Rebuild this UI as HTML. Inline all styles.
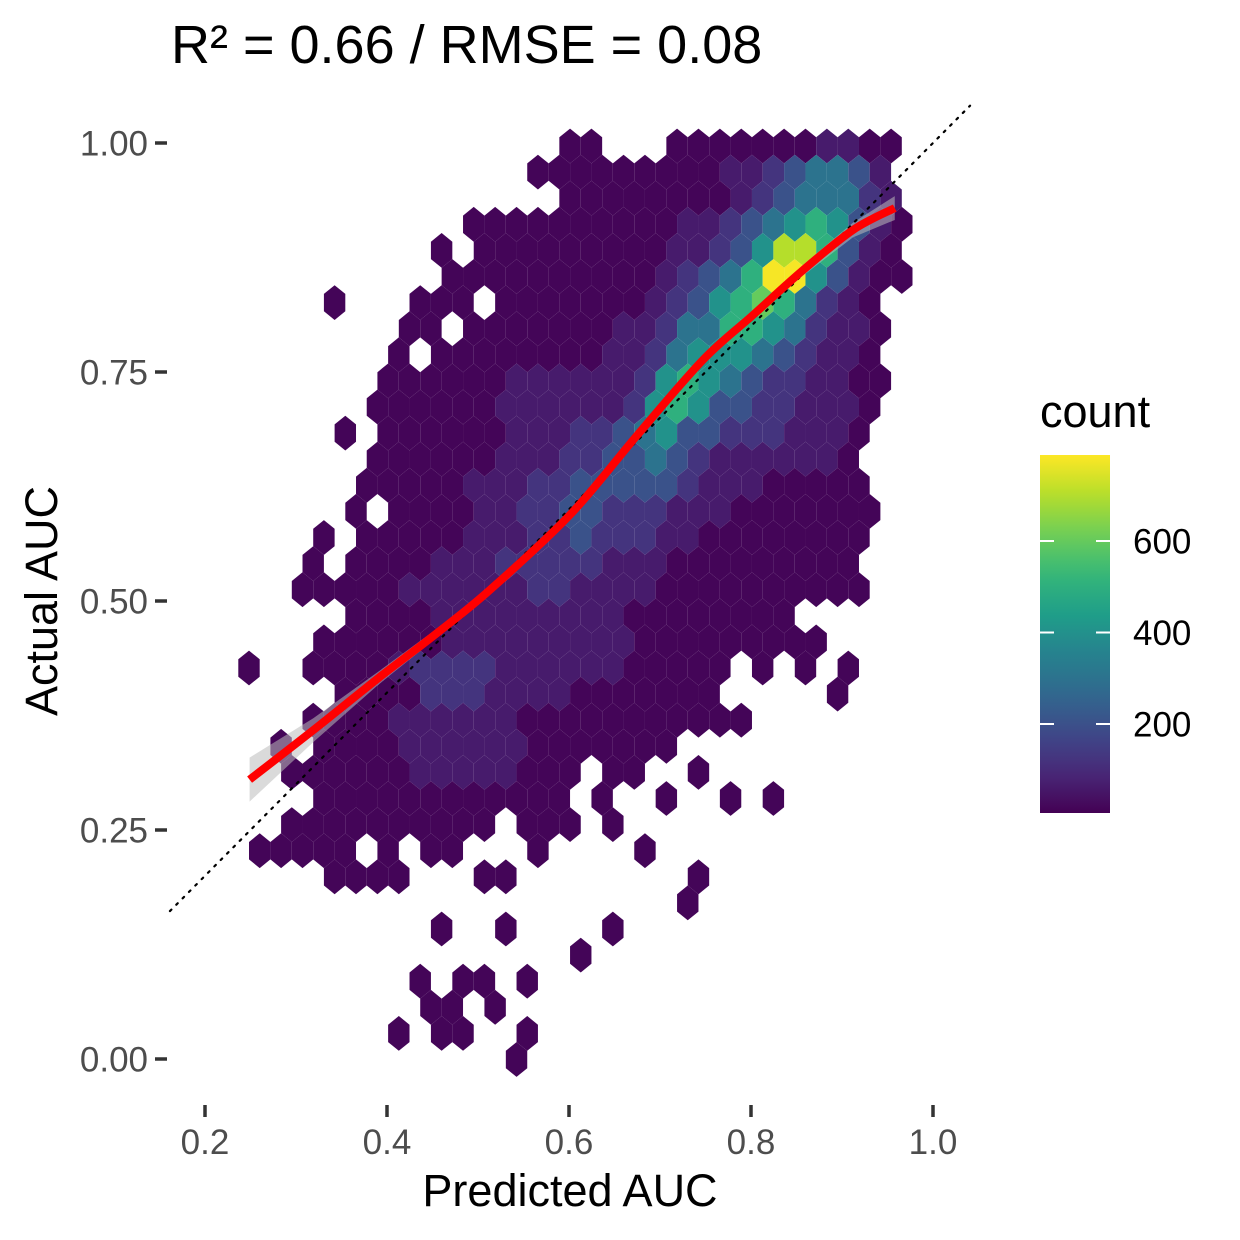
<!DOCTYPE html>
<html><head><meta charset="utf-8"><style>
html,body{margin:0;padding:0;background:#fff}
svg{display:block;font-family:"Liberation Sans",sans-serif}
</style></head><body>
<svg id="chart" width="1240" height="1240" viewBox="0 0 1240 1240">
<defs><linearGradient id="vir" x1="0" y1="1" x2="0" y2="0"></linearGradient></defs>
<text x="171" y="63" font-size="54" fill="#000">R² = 0.66 / RMSE = 0.08</text>
<g id="hexes"></g>
<g id="fit"></g>
<g id="axes"></g>
<text x="570" y="1206" font-size="45" text-anchor="middle" fill="#000">Predicted AUC</text>
<text transform="translate(57,601) rotate(-90)" font-size="45" text-anchor="middle" fill="#000">Actual AUC</text>
<g id="legend">
<text x="1040" y="427" font-size="45" fill="#000">count</text>
<rect x="1040" y="455" width="70" height="358" fill="url(#vir)"/>
</g>
</svg>
<script>
// ---- data ----
const xTicks = [0.2, 0.4, 0.6, 0.8, 1.0];
const xTickLabels = ["0.2", "0.4", "0.6", "0.8", "1.0"];
const yTicks = [0.0, 0.25, 0.5, 0.75, 1.0];
const yTickLabels = ["0.00", "0.25", "0.50", "0.75", "1.00"];
const legendTicks = [200, 400, 600];
const legendTickLabels = ["200", "400", "600"];
const countMin = 1;
const countMax = 788;
// hex grid (data units)
const hexX0 = 0.24835;
const hexY0 = 0.99672;
const hexBinW = 0.02352;
const hexBinH = 0.028493;
// count code per hexagon, row by row from top
const levelCodes = ["1", "2", "3", "4", "5", "6", "7", "8", "9", "A"];
const levelCounts = [10, 60, 120, 200, 300, 400, 500, 600, 700, 780];
const hexRows = [
"...............11...11111112211",
".............11111111122345542.",
"...............1111111123455532",
"..........1111111111223456764 21".replace(" ",""),
".........1.11111111122346997421",
".........111111111123457AA64211",
"....1...111.1111111234678753 21".replace(" ","")+".",
".......11.11111112235577653221.",
".......1.111111112235666543221.",
"......111111222222367654332211.",
"......111111222222367644332221.",
"....1.11111122233456443332221..",
"......11111122233445432222221..",
".....11111222334444432221111 1..".replace(" ",""),
".....1.11112233443332221111111.",
"...1.111112223343332211111111..",
"...1.111122233333222111111111..",
"..11111222222332222111111111 1..".replace(" ",""),
".....1111222222222111111 11.....".replace(" ",""),
"...111111222222222111111111....",
"1..11112333322222211111.1.1.1...",
"....11113332222111111 1.....1...".replace(" ",""),
"...1111222222111111111 11.......".replace(" ",""),
".1.11112222221111111...........",
"..11111122222111.11..1.........",
"...111111111111.1..1..1.1......",
"..1111111111.111.1.............",
"11111.1.11...1....1............",
"....1111...11........1.........",
"....................1..........",
".........1..1....1.............",
"...............1...............",
"........1.11.1.................",
"........11.1...................",
".......1.11..1.................",
"............1.................."
];
// loess fit line
const fitX = [0.249, 0.319, 0.392, 0.455, 0.513, 0.601, 0.675, 0.747, 0.802, 0.857, 0.912, 0.958];
const fitY = [0.305, 0.359, 0.417, 0.465, 0.512, 0.594, 0.681, 0.763, 0.812, 0.861, 0.905, 0.929];
const fitSE = [0.024, 0.013, 0.007, 0.005, 0.004, 0.004, 0.004, 0.004, 0.005, 0.006, 0.008, 0.013];
// identity reference line
const refX = [0.1615, 1.0407];
const refY = [0.1615, 1.0407];

// ---- scales ----
const sx = v => 23 + v * 910;
const sy = v => 1059 - v * 916;
const legY = v => 815.5 - v * 0.4575;
const vir = ["#440154","#482878","#3e4989","#31688e","#26828e","#1f9e89","#35b779","#6ece58","#b5de2b","#fde725"];
function hexToRgb(h){return [1,3,5].map(i=>parseInt(h.substr(i,2),16));}
function viridis(t){
  t=Math.max(0,Math.min(1,t));
  const p=t*(vir.length-1), i=Math.min(Math.floor(p),vir.length-2), f=p-i;
  const a=hexToRgb(vir[i]), b=hexToRgb(vir[i+1]);
  return "rgb("+a.map((v,k)=>Math.round(v+(b[k]-v)*f)).join(",")+")";
}
const NS="http://www.w3.org/2000/svg";
function mk(tag,attrs,parent){const e=document.createElementNS(NS,tag);for(const k in attrs)e.setAttribute(k,attrs[k]);parent.appendChild(e);return e;}
function smoothPath(pts){
  let d="M"+pts[0][0]+","+pts[0][1];
  for(let i=0;i<pts.length-1;i++){
    const p0=pts[Math.max(0,i-1)],p1=pts[i],p2=pts[i+1],p3=pts[Math.min(pts.length-1,i+2)];
    const c1=[p1[0]+(p2[0]-p0[0])/6,p1[1]+(p2[1]-p0[1])/6];
    const c2=[p2[0]-(p3[0]-p1[0])/6,p2[1]-(p3[1]-p1[1])/6];
    d+=" C"+c1.join(",")+" "+c2.join(",")+" "+p2.join(",");
  }
  return d;
}

// gradient
const grad=document.getElementById("vir");
for(let i=0;i<=20;i++){const t=i/20;mk("stop",{offset:t,"stop-color":viridis(t)},grad);}

// hexes
const hg=document.getElementById("hexes");
hexRows.forEach((row,r)=>{
  for(let c=0;c<row.length;c++){
    const ch=row[c]; const li=levelCodes.indexOf(ch);
    if(li<0) continue;
    const count=levelCounts[li];
    const cx=sx(hexX0 + c*hexBinW + (r%2 ? hexBinW/2 : 0));
    const cy=sy(hexY0 - r*hexBinH);
    const hw=(sx(hexBinW)-sx(0))/2, hh=(sy(0)-sy(hexBinH))*2/3;
    const pts=[[0,-hh],[hw,-hh/2],[hw,hh/2],[0,hh],[-hw,hh/2],[-hw,-hh/2]].map(p=>(cx+p[0]).toFixed(2)+","+(cy+p[1]).toFixed(2)).join(" ");
    const poly=mk("polygon",{points:pts,fill:viridis((count-countMin)/(countMax-countMin)),stroke:"none"},hg);
    
    
  }
});

// fit
const fg=document.getElementById("fit");
const upPts=fitX.map((x,i)=>[sx(x),sy(fitY[i]+fitSE[i])]);
const loPts=fitX.map((x,i)=>[sx(x),sy(fitY[i]-fitSE[i])]).reverse();
const rib=mk("polygon",{points:upPts.concat(loPts).map(p=>p.join(",")).join(" "),fill:"#bbb",opacity:"0.55"},fg);


const ref=mk("line",{x1:sx(refX[0]),y1:sy(refY[0]),x2:sx(refX[1]),y2:sy(refY[1]),stroke:"#000","stroke-width":"2.2","stroke-dasharray":"2 7","stroke-linecap":"round"},fg);


const fl=mk("path",{d:smoothPath(fitX.map((x,i)=>[sx(x),sy(fitY[i])])),fill:"none",stroke:"#ff0000","stroke-width":"8","stroke-linejoin":"round"},fg);



// axes
const ag=document.getElementById("axes");
xTicks.forEach((v,i)=>{
  const t=mk("line",{x1:sx(v),x2:sx(v),y1:1105,y2:1117,stroke:"#333","stroke-width":"3.5"},ag);
  
  
  const l=mk("text",{x:sx(v),y:1154,"font-size":"35","text-anchor":"middle",fill:"#4d4d4d"},ag);
  l.textContent=xTickLabels[i];
  
  
});
yTicks.forEach((v,i)=>{
  const t=mk("line",{x1:155,x2:167,y1:sy(v),y2:sy(v),stroke:"#333","stroke-width":"3.5"},ag);
  
  
  const l=mk("text",{x:148,y:sy(v)+12.5,"font-size":"35","text-anchor":"end",fill:"#4d4d4d"},ag);
  l.textContent=yTickLabels[i];
  
  
});

// legend ticks
const lg=document.getElementById("legend");
legendTicks.forEach((v,i)=>{
  const y=legY(v);
  const a=mk("line",{x1:1040,x2:1054,y1:y,y2:y,stroke:"#fff","stroke-width":"2"},lg);
  
  
  const b=mk("line",{x1:1096,x2:1110,y1:y,y2:y,stroke:"#fff","stroke-width":"2"},lg);
  
  
  const l=mk("text",{x:1133,y:y+12.5,"font-size":"35",fill:"#000"},lg);
  l.textContent=legendTickLabels[i];
  
  
});
</script>
</body></html>
